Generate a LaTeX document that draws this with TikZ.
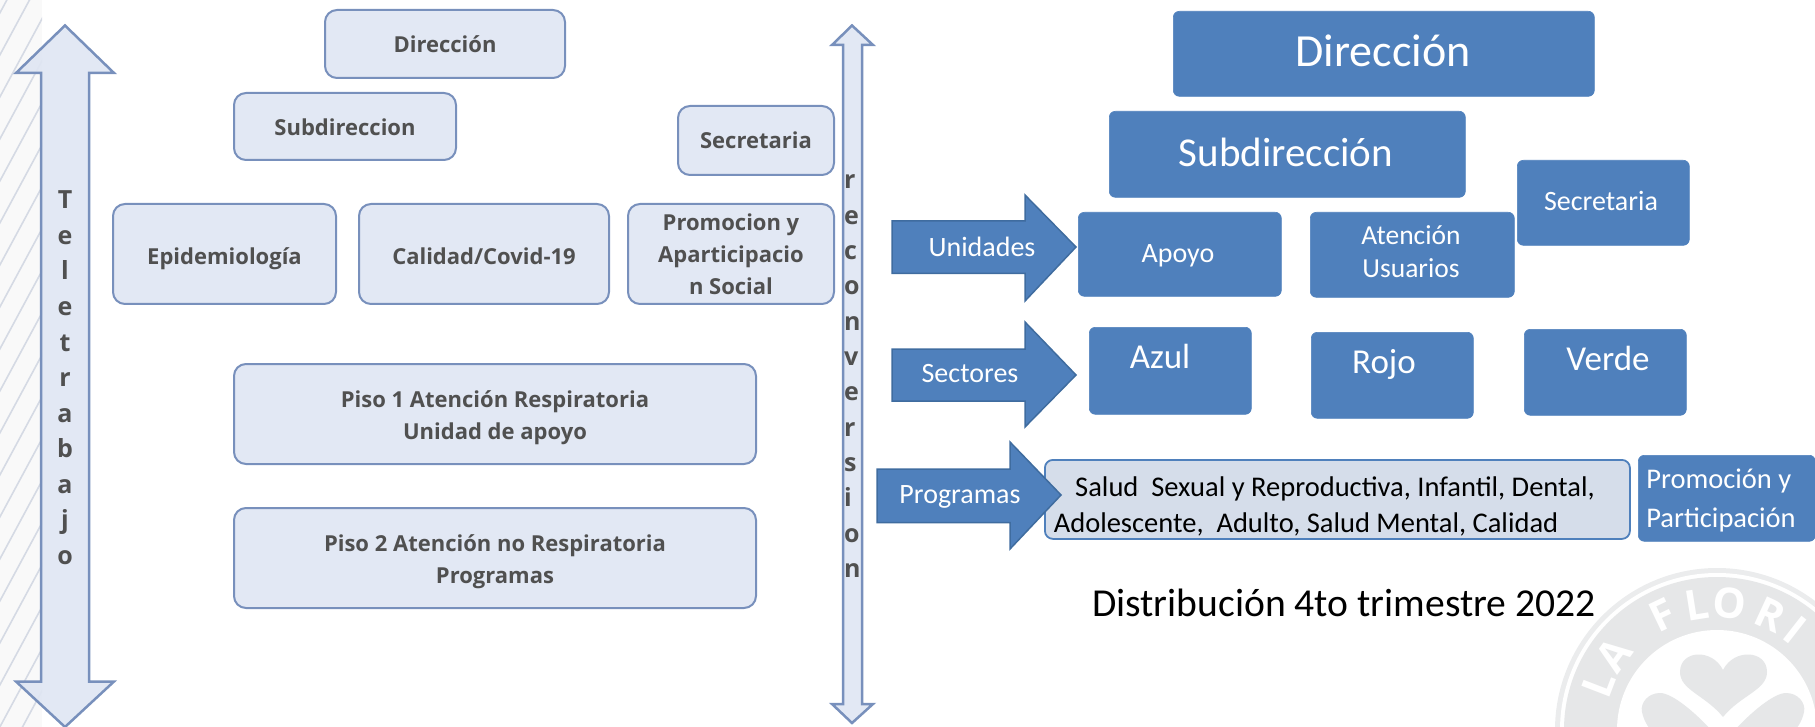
\documentclass[tikz,border=0pt]{standalone}
\usepackage{fontspec}
\setmainfont{Carlito}
\newfontfamily\lfont{Open Sans}[BoldFont={Open Sans Bold}]
\definecolor{lfill}{HTML}{E2E8F4}
\definecolor{lline}{HTML}{7890BC}
\definecolor{lbar}{HTML}{DFE6F3}
\definecolor{ltext}{HTML}{505050}
\definecolor{rblue}{HTML}{4F80BC}
\definecolor{rline}{HTML}{3F6C9F}
\definecolor{pfill}{HTML}{D5DDEA}
\definecolor{wm}{HTML}{E6E7E8}
\definecolor{hatch}{HTML}{D5DAE4}
\tikzset{
 lbox/.style={draw=lline,line width=2pt,fill=lfill,rounded corners=12pt,inner sep=0pt,text=ltext,align=center,font=\lfont\bfseries\fontsize{22}{32}\selectfont},
 rbox/.style={fill=rblue,draw=rblue,line width=.6pt,rounded corners=6pt,inner sep=0pt},
 rtxt/.style={text=white,inner sep=0pt,align=left},
 btxt/.style={text=black,inner sep=0pt},
 vltr/.style={text=ltext,inner sep=0pt,font=\lfont\bfseries\fontsize{25}{25}\selectfont},
 barrow/.style={fill=lbar,draw=lline,line width=2.5pt,line join=miter,fill opacity=.9},
 rarrow/.style={fill=rblue,draw=rline,line width=1.5pt,line join=miter},
 wml/.style={text=white,inner sep=0pt,font=\lfont\bfseries\fontsize{42}{42}\selectfont},
}
\newcommand{\lb}[7][lbox]{\node[#1,minimum width=#5pt - #3pt,minimum height=#6pt - #4pt,anchor=north west] (#2) at (#3,#4) {#7};}
\begin{document}
\begin{tikzpicture}[x=1pt,y=-1pt]
\useasboundingbox (0,0) rectangle (1815,727);
% hatched margin strip
\begin{scope}
\clip (0,0) rectangle (42,727);
\fill[black!2.5] (0,0) rectangle (42,727);
\foreach \k in {-1,...,20}{
  \draw[hatch,line width=1.6pt] (-5,{\k*42+13+9}) -- (50,{\k*42+13-93});
}
\end{scope}
% watermark logo
\begin{scope}
\clip (1400,520) rectangle (1815,727);
\fill[wm!80!white] (1717,730) circle (162);
\fill[white] (1717,730) circle (157);
\fill[wm] (1717,730) circle (153);
\fill[white] (1717,730) circle (100);
\fill[wm] (1723,717) .. controls (1705,695) and (1680,690) .. (1680,672)
  .. controls (1680,650) and (1712,648) .. (1723,670)
  .. controls (1734,648) and (1767,650) .. (1767,672)
  .. controls (1767,690) and (1741,695) .. (1723,717) -- cycle;
\fill[wm] (1714,733) .. controls (1695,712) and (1672,693) .. (1660,693)
  .. controls (1648,693) and (1640,703) .. (1642,712)
  .. controls (1644,722) and (1650,730) .. (1655,735) -- cycle;
\fill[wm] (1732,733) .. controls (1751,712) and (1774,693) .. (1786,693)
  .. controls (1798,693) and (1806,703) .. (1804,712)
  .. controls (1802,722) and (1796,730) .. (1791,735) -- cycle;
\foreach \ch/\a in {L/-69,A/-54,F/-25.6,L/-9,O/5.8,R/24.7,I/38}{
  \node[wml,rotate=-\a] at ({1717+127*sin(\a)},{730-127*cos(\a)}) {\ch};
}
\end{scope}
% left boxes
\lb[lbox,text height=24pt,text depth=6pt]{a1}{324}{9}{564}{77}{Dirección}
\lb[lbox,text height=24pt,text depth=5pt]{a2}{233}{92}{455}{159}{Subdireccion}
\lb{a3}{677}{105}{833}{174}{Secretaria}
\lb[lbox,text height=24pt,text depth=2pt]{a4}{112}{203}{335}{303}{Epidemiología}
\lb[lbox,text height=24pt,text depth=2pt]{a5}{358}{203}{608}{303}{Calidad/Covid-19}
\lb{a6}{627}{203}{833}{303}{Promocion y\\Aparticipacio\\n Social}
\lb{a7}{233}{363}{755}{463}{\rule{0pt}{24pt}Piso 1 Atención Respiratoria\\Unidad de apoyo}
\lb{a8}{233}{507}{755}{607}{\rule{0pt}{24pt}Piso 2 Atención no Respiratoria\\Programas}
% double arrows
\draw[barrow] (65,25.5) -- (114,73) -- (89,73) -- (89,681.5) -- (114,681.5) -- (65,727) -- (16,681.5) -- (41,681.5) -- (41,73) -- (16,73) -- cycle;
\draw[barrow] (852,25.5) -- (873,45) -- (862,45) -- (862,704) -- (873,704) -- (852,723) -- (832,704) -- (843,704) -- (843,45) -- (832,45) -- cycle;
\foreach \ch [count=\k from 0] in {T,e,l,e,t,r,a,b,a,j,o}{
  \node[vltr,anchor=base] at (65,{209+35.5*\k}) {\ch};
}
\foreach \ch [count=\k from 0] in {r,e,c,o,n,v,e,r,s,i,o,n}{
  \node[vltr,anchor=base west] at (844,{189+35.3*\k}) {\ch};
}
% right boxes
\lb[rbox]{b1}{1173}{11}{1594}{96}{}
\lb[rbox]{b2}{1109}{111}{1465}{197}{}
\lb[rbox]{b3}{1517}{160}{1689}{245}{}
\lb[rbox]{b4}{1078}{212}{1281}{296}{}
\lb[rbox]{b5}{1310}{212}{1514}{297}{}
\lb[rbox]{b6}{1089}{327}{1251}{414}{}
\lb[rbox]{b7}{1311}{332}{1473}{418}{}
\lb[rbox]{b8}{1524}{329}{1686}{415}{}
\lb[rbox]{b9}{1638}{455}{1815}{541}{}
\node[rtxt,font=\fontsize{46}{46}\selectfont] (t1) at (1383,51) {Dirección};
\node[rtxt,font=\fontsize{41}{41}\selectfont] (t2) at (1286,152) {Subdirección};
\node[rtxt,font=\fontsize{28}{28}\selectfont] (t3) at (1601,201) {Secretaria};
\node[rtxt,font=\fontsize{28}{28}\selectfont] (t4) at (1178,256) {Apoyo};
\node[rtxt,align=center,font=\fontsize{27.5}{33}\selectfont] (t5) at (1411,252) {Atención\\Usuarios};
\node[rtxt,font=\fontsize{35}{35}\selectfont] (t6) at (1160,356) {Azul};
\node[rtxt,font=\fontsize{35}{35}\selectfont] (t7) at (1384,364) {Rojo};
\node[rtxt,font=\fontsize{35}{35}\selectfont] (t8) at (1608,358) {Verde};
\node[rtxt,align=left,font=\fontsize{28.5}{39}\selectfont] (t9) at (1721,500) {Promoción y\\Participación};
% programs box
\lb[rbox,fill=pfill,draw=rblue,line width=1.8pt,rounded corners=8pt]{c1}{1044}{459}{1629}{538}{}
\node[btxt,font=\fontsize{28.5}{28.5}\selectfont] (c2) at (1335,489) {Salud\ \ Sexual y Reproductiva,\ Infantil, Dental,};
\node[btxt,font=\fontsize{28.5}{28.5}\selectfont] (c3) at (1306,524) {Adolescente,\ \ Adulto, Salud Mental, Calidad};
% block arrows
\draw[rarrow] (892,221) -- (1025,221) -- (1025,195) -- (1076,247) -- (1025,301) -- (1025,273.5) -- (892,273.5) -- cycle;
\draw[rarrow] (892,349) -- (1025,349) -- (1025,322) -- (1076,375) -- (1025,427) -- (1025,401) -- (892,401) -- cycle;
\draw[rarrow] (877,469) -- (1010,469) -- (1010,442) -- (1061,495) -- (1010,549) -- (1010,522.5) -- (877,522.5) -- cycle;
\node[rtxt,font=\fontsize{28}{28}\selectfont] (u1) at (982,247) {Unidades};
\node[rtxt,font=\fontsize{28}{28}\selectfont] (u2) at (970,374) {Sectores};
\node[rtxt,font=\fontsize{28}{28}\selectfont] (u3) at (960,497) {Programas};
% caption
\node[btxt,font=\fontsize{39.6}{39.6}\selectfont] (cap) at (1344,603) {Distribución 4to trimestre 2022};
\end{tikzpicture}
\end{document}
